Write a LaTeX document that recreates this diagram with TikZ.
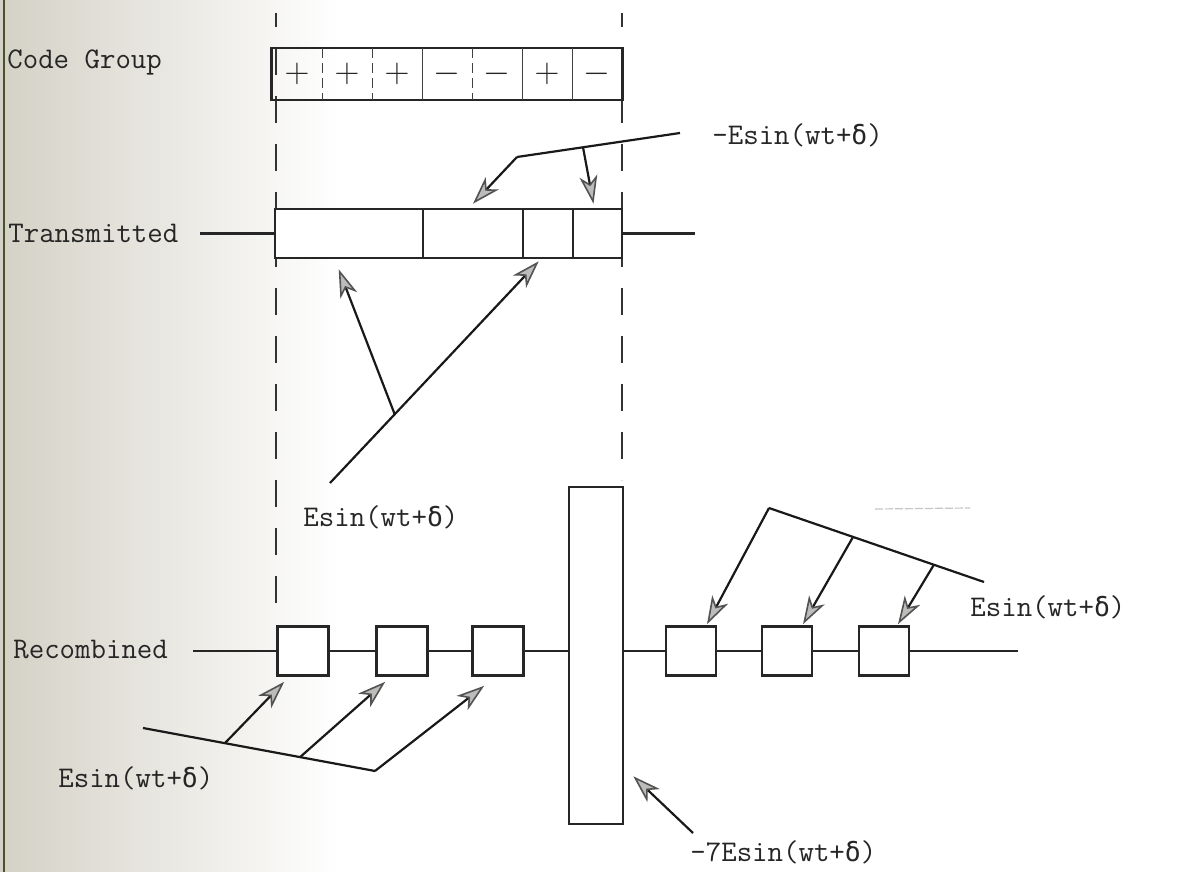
\documentclass[tikz,border=0pt]{standalone}
\usepackage{fontspec}
\newfontfamily\greekmono[Scale=0.88]{DejaVu Sans Mono}
\usetikzlibrary{arrows.meta,calc}
\newcommand{\dlt}{{\greekmono δ}}
\newcommand{\labelfont}{\fontsize{15pt}{18pt}\selectfont\ttfamily}

\tikzset{
  frame/.style={draw=black!85, line width=1.3pt, fill=white, inner sep=0pt},
  cell/.style={inner sep=0pt, minimum width=25pt, minimum height=25.5pt, font=\fontsize{18pt}{20pt}\selectfont, text=black!85},
  lbl/.style={font=\labelfont, text=black!85, inner sep=0pt, anchor=west},
  lead/.style={draw=black!90, line width=1.1pt},
  ptr/.style={lead, -{Stealth[length=14pt, width=9pt, inset=4pt, line width=0.8pt, color=gray!65!black, fill={rgb,255:red,188;green,188;blue,186}]}},
  guide/.style={draw=black!80, line width=1.1pt, dash pattern=on 13.5pt off 10.5pt, dash phase=6.5pt},
  wire/.style={draw=black!85, line width=1.3pt},
  divider/.style={draw=black!75, line width=0.9pt},
  dashdiv/.style={divider, dash pattern=on 5pt off 2.5pt}
}

\begin{document}
\begin{tikzpicture}[x=0.5pt, y=-0.5pt]
\useasboundingbox (0,0) rectangle (1180,872);

% paper, with the darker scanned margin on the left
\fill[white] (0,0) rectangle (1180,872);
\fill[left color={rgb,255:red,212;green,209;blue,198}, right color=white] (0,0) rectangle (340,872);
\draw[line width=1.4pt, color={rgb,255:red,72;green,82;blue,44}] (4,0) -- (4,872);

% vertical guides marking the code-group window
\coordinate (gl0) at (276,13);
\coordinate (gl1) at (276,620);
\coordinate (gr0) at (622,13);
\coordinate (gr1) at (622,480);
\draw[guide] (gl0) -- (gl1);
\draw[guide] (gr0) -- (gr1);

% ---- code group ----
\node[lbl] (lcode) at (7,62) {Code Group};
\node[cell] (c1) at (297,74) {$+$};
\node[cell] (c2) at (347,74) {$+$};
\node[cell] (c3) at (397,74) {$+$};
\node[cell] (c4) at (447,74) {$-$};
\node[cell] (c5) at (497,74) {$-$};
\node[cell] (c6) at (547,74) {$+$};
\node[cell] (c7) at (597,74) {$-$};
\draw[wire] (c1.north west) rectangle (c7.south east);
\draw[dashdiv] (c1.north east) -- (c1.south east);
\draw[dashdiv] (c2.north east) -- (c2.south east);
\draw[divider] (c3.north east) -- (c3.south east);
\draw[dashdiv] (c4.north east) -- (c4.south east);
\draw[divider] (c5.north east) -- (c5.south east);
\draw[divider] (c6.north east) -- (c6.south east);

% ---- transmitted ----
\node[lbl] (ltx) at (8,233) {Transmitted};
\node[frame, minimum width=74pt, minimum height=24.5pt] (t1) at (349,233.5) {};
\node[frame, minimum width=50pt, minimum height=24.5pt] (t2) at (473,233.5) {};
\node[frame, minimum width=25pt, minimum height=24.5pt] (t3) at (548,233.5) {};
\node[frame, minimum width=24.5pt, minimum height=24.5pt] (t4) at (597.5,233.5) {};
\coordinate (tw) at (200,233.5);
\coordinate (te) at (695,233.5);
\draw[wire] (tw) -- (t1.west);
\draw[wire] (t4.east) -- (te);

% -Esin pointers onto the transmitted group
\node[lbl] (lneg) at (712,135) {-Esin(wt+\dlt)};
\coordinate (m0) at (680,133);
\coordinate (m1) at (517,157);
\coordinate (m2) at ($(m0)!0.595!(m1)$);
\draw[lead] (m0) -- (m1);
\draw[ptr] (m1) -- ($(t2.north)+(0,-4)$);
\draw[ptr] (m2) -- ($(t4.north)+(-4,-4)$);

% Esin pointers from below
\node[lbl] (lpos) at (303,517) {Esin(wt+\dlt)};
\coordinate (e0) at (330,483);
\coordinate (e2) at ($(t3.south west)+(17,2)$);
\coordinate (e1) at ($(e0)!0.31!(e2)$);
\draw[ptr] (e0) -- (e2);
\draw[ptr] (e1) -- ($(t1.south west)+(65,10)$);

% ---- recombined ----
\node[lbl] (lrc) at (13,650) {Recombined};
\node[frame, minimum width=25.5pt, minimum height=24.5pt] (r1) at (303,651) {};
\node[frame, minimum width=25.5pt, minimum height=24.5pt] (r2) at (402,651) {};
\node[frame, minimum width=25.5pt, minimum height=24.5pt] (r3) at (498,651) {};
\node[frame, minimum width=27pt, minimum height=168.5pt] (big) at (596,655.5) {};
\node[frame, minimum width=25pt, minimum height=24.5pt] (r4) at (691,651) {};
\node[frame, minimum width=25pt, minimum height=24.5pt] (r5) at (787,651) {};
\node[frame, minimum width=25pt, minimum height=24.5pt] (r6) at (884,651) {};
\coordinate (rw) at (193,651);
\coordinate (re) at (1018,651);
\draw[wire] (rw) -- (r1.west);
\draw[wire] (r1.east) -- (r2.west);
\draw[wire] (r2.east) -- (r3.west);
\draw[wire] (r3.east) -- ($(big.west)+(0,-4.5)$);
\draw[wire] ($(big.east)+(0,-4.5)$) -- (r4.west);
\draw[wire] (r4.east) -- (r5.west);
\draw[wire] (r5.east) -- (r6.west);
\draw[wire] (r6.east) -- (re);

% Esin pointers onto the left-hand pulses
\node[lbl] (lleft) at (58,778) {Esin(wt+\dlt)};
\coordinate (f0) at (143,728);
\coordinate (f1) at (375,771);
\draw[lead] (f0) -- (f1);
\draw[ptr] (f1) -- ($(r3.south west)+(13,9)$);
\draw[ptr] ($(f0)!0.353!(f1)$) -- ($(r1.south west)+(8,5)$);
\draw[ptr] ($(f0)!0.677!(f1)$) -- ($(r2.south west)+(10,5)$);

% Esin pointers onto the right-hand pulses
\node[lbl] (lright) at (970,607) {Esin(wt+\dlt)};
\coordinate (g0) at (984,582);
\coordinate (g1) at (769,508);
\draw[lead] (g0) -- (g1);
\draw[ptr] (g1) -- ($(r4.north)+(16,-1)$);
\draw[ptr] ($(g1)!0.391!(g0)$) -- ($(r5.north)+(16,-1)$);
\draw[ptr] ($(g1)!0.767!(g0)$) -- ($(r6.north)+(14,-1)$);

% faint pencil stroke above the right pulses
\draw[gray!45, line width=0.6pt, dash pattern=on 4pt off 1pt] (875,509) -- (970,508);

% -7Esin pointer onto the large pulse
\node[lbl] (lbig) at (690,852) {-7Esin(wt+\dlt)};
\coordinate (k0) at (693,833);
\draw[ptr] (k0) -- ($(big.south east)+(9,-49)$);

\end{tikzpicture}
\end{document}
